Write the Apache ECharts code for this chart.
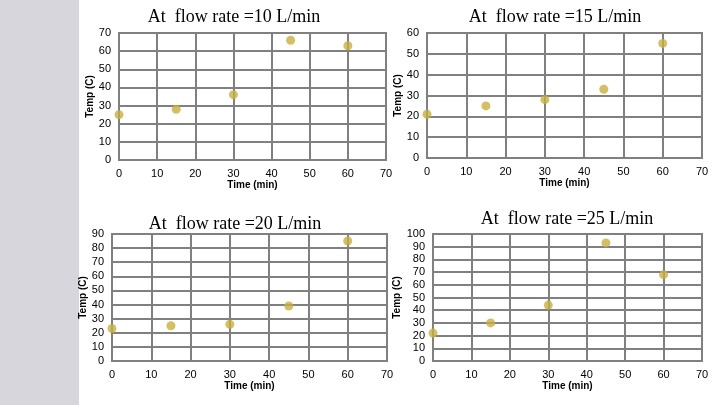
<!DOCTYPE html>
<html><head><meta charset="utf-8">
<script src="https://cdn.jsdelivr.net/npm/echarts@6/dist/echarts.min.js"></script>
<style>html,body{margin:0;padding:0;background:#fff}#c{width:720px;height:405px}</style>
</head><body><div id="c"></div>
<script>
const times = [0, 15, 30, 45, 60];
const temp10 = [25, 28, 36, 66, 63];
const temp15 = [21, 25, 28, 33, 55];
const temp20 = [23, 25, 26, 39, 85];
const temp25 = [22, 30, 44, 93, 68];
const titles = ['At  flow rate =10 L/min', 'At  flow rate =15 L/min', 'At  flow rate =20 L/min', 'At  flow rate =25 L/min'];
const yMax = [70, 60, 90, 100];
const seriesData = [temp10, temp15, temp20, temp25];

const grids = [
  {left: 119, top: 33, width: 267, height: 127},
  {left: 427, top: 33, width: 275, height: 125},
  {left: 112, top: 234, width: 275, height: 127},
  {left: 433, top: 234, width: 269, height: 127}
];
const titlePos = [[229, 3], [550, 3], [230, 210], [562, 205]];
const yGap = [20, 18, 20, 24];
const gray = '#808080';
const labelStyle = {color: '#000', fontFamily: 'Liberation Sans, Arial', fontSize: 11};
const nameStyle = {color: '#000', fontFamily: 'Liberation Sans, Arial', fontSize: 10, fontWeight: 'bold'};

const option = {
  animation: false,
  backgroundColor: '#fff',
  graphic: [{type: 'rect', shape: {x: 0, y: 0, width: 79, height: 405}, style: {fill: '#d6d6dc'}}],
  title: titles.map((t, i) => ({
    text: t, left: titlePos[i][0], top: titlePos[i][1], textAlign: 'center',
    textStyle: {fontFamily: 'Liberation Serif, Times New Roman', fontSize: 18, fontWeight: 'normal', color: '#000'}
  })),
  grid: grids.map(g => Object.assign({show: true, borderColor: gray, borderWidth: 2, backgroundColor: '#fff'}, g)),
  xAxis: grids.map((g, i) => ({
    type: 'value', gridIndex: i, min: 0, max: 70, interval: 10,
    name: 'Time (min)', nameLocation: 'middle', nameGap: 19, nameTextStyle: nameStyle,
    axisLine: {show: true, lineStyle: {color: gray, width: 2}},
    axisTick: {show: false},
    axisLabel: Object.assign({margin: 8}, labelStyle),
    splitLine: {show: true, lineStyle: {color: gray, width: 2}}
  })),
  yAxis: grids.map((g, i) => ({
    type: 'value', gridIndex: i, min: 0, max: yMax[i], interval: 10,
    name: 'Temp (C)', nameLocation: 'middle', nameGap: yGap[i], nameTextStyle: nameStyle,
    axisLine: {show: true, lineStyle: {color: gray, width: 2}},
    axisTick: {show: false},
    axisLabel: Object.assign({margin: 8}, labelStyle),
    splitLine: {show: true, lineStyle: {color: gray, width: 2}}
  })),
  series: seriesData.map((d, i) => ({
    type: 'scatter', xAxisIndex: i, yAxisIndex: i,
    data: times.map((t, k) => [t, d[k]]),
    symbol: 'circle', symbolSize: 9,
    itemStyle: {color: '#c8b040'}
  }))
};
echarts.init(document.getElementById('c')).setOption(option);
</script></body></html>
